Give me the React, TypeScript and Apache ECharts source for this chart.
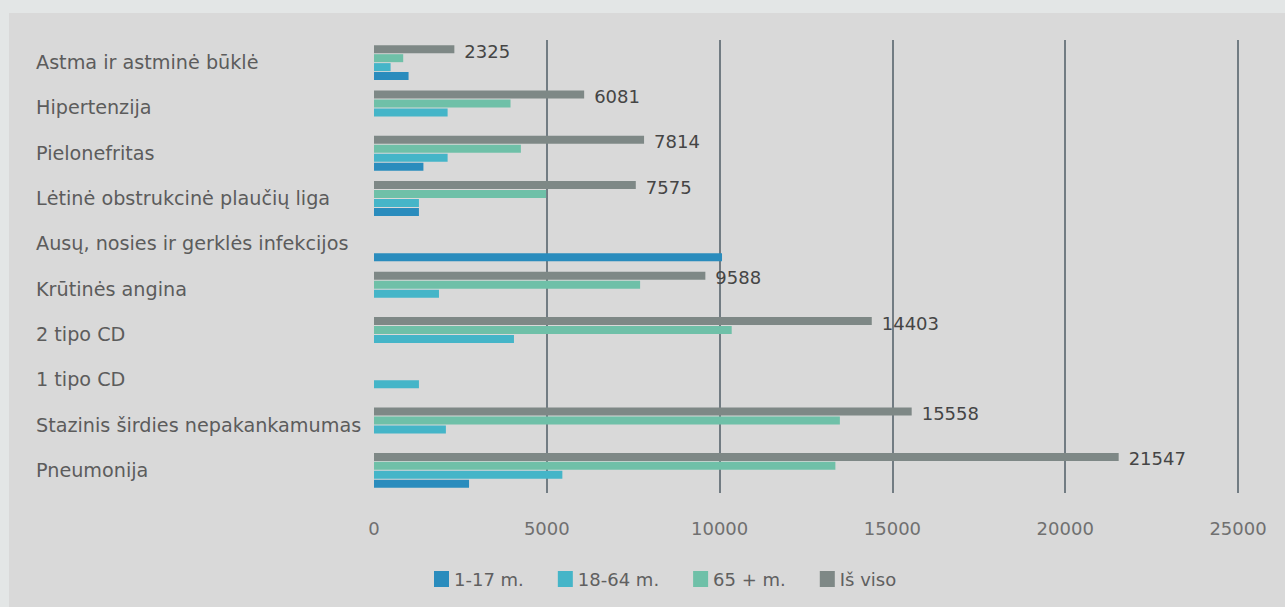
import React, { useEffect, useRef } from "react";
import * as echarts from "echarts";

const categories = [
  "Astma ir astminė būklė",
  "Hipertenzija",
  "Pielonefritas",
  "Lėtinė obstrukcinė plaučių liga",
  "Ausų, nosies ir gerklės infekcijos",
  "Krūtinės angina",
  "2 tipo CD",
  "1 tipo CD",
  "Stazinis širdies nepakankamumas",
  "Pneumonija",
];

const seriesNames = ["1-17 m.", "18-64 m.", "65 + m.", "Iš viso"];

const age1to17 = [1000, 0, 1430, 1300, 10070, 0, 0, 0, 0, 2750];
const age18to64 = [480, 2130, 2130, 1300, 0, 1880, 4050, 1300, 2080, 5450];
const age65plus = [845, 3950, 4250, 4980, 0, 7700, 10350, 0, 13480, 13350];
const total = [2325, 6081, 7814, 7575, null, 9588, 14403, null, 15558, 21547];

const xTicks = { min: 0, max: 25000, interval: 5000 };

const colors = ["#2a8cbd", "#45b5c8", "#6fc0a8", "#7e8886"];

const FONT = "DejaVu Sans";

export default function App() {
  const ref = useRef<HTMLDivElement>(null);
  useEffect(() => {
    if (!ref.current) return;
    const chart = echarts.init(ref.current, null, { renderer: "svg" });
    const datas = [age1to17, age18to64, age65plus, total];
    const series = datas
      .map((d, i) => ({
        name: seriesNames[i],
        type: "bar",
        data: d,
        barWidth: 8,
        barGap: "12%",
        itemStyle: { color: colors[i] },
        label:
          i === 3
            ? {
                show: true,
                position: "right",
                distance: 10,
                color: "#454545",
                fontSize: 18,
                fontFamily: FONT,
                offset: [0, 2],
              }
            : { show: false },
      }))
      .reverse();
    chart.setOption({
      animation: false,
      backgroundColor: "#d9d9d9",
      color: colors,
      grid: { left: 365, right: 47, top: 27, bottom: 114 },
      legend: {
        top: 552,
        left: 420,
        data: seriesNames.map((n, i) => ({ name: n, itemStyle: { color: colors[i] } })),
        icon: "rect",
        itemWidth: 15,
        itemHeight: 16,
        itemGap: 34,
        textStyle: { color: "#606060", fontSize: 18, fontFamily: FONT },
      },
      xAxis: {
        type: "value",
        min: xTicks.min,
        max: xTicks.max,
        interval: xTicks.interval,
        axisLine: { show: false },
        axisTick: { show: false },
        axisLabel: {
          color: "#707070",
          fontSize: 18,
          margin: 26,
          fontFamily: FONT,
          formatter: (v: number) => String(v),
        },
        splitLine: { show: true, showMinLine: false, lineStyle: { color: "#4f5c66", width: 1.5 } },
      },
      yAxis: {
        type: "category",
        data: categories,
        inverse: true,
        axisLine: { show: false },
        axisTick: { show: false },
        axisLabel: {
          align: "left",
          margin: 338,
          color: "#5c5c5c",
          fontSize: 19.2,
          fontFamily: FONT,
        },
      },
      series,
    });
    return () => chart.dispose();
  }, []);
  return (
    <div style={{ position: "fixed", left: 0, top: 0, width: 1285, height: 607, background: "#e3e6e6" }}>
      <div ref={ref} style={{ position: "absolute", left: 9, top: 13, width: 1276, height: 594 }} />
    </div>
  );
}
